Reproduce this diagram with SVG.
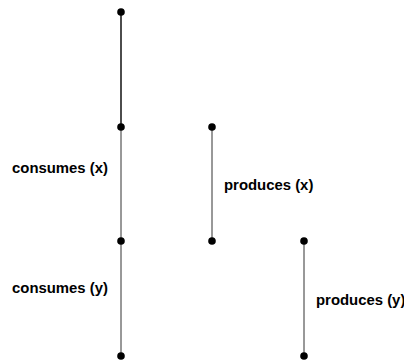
<svg xmlns="http://www.w3.org/2000/svg" width="404" height="362" viewBox="0 0 404 362">
<style>
.dot{fill:#000}
.edge{stroke:#333;stroke-width:1;fill:none}
.edge.top{stroke:#000;stroke-width:1.4}
.lbl{font-family:"Liberation Sans",Arial,sans-serif;font-weight:bold;font-size:14.9px;fill:#000}
</style>
<rect width="404" height="362" fill="#fff"/>
<g id="connectors">
<line class="edge top" x1="121" y1="12" x2="121" y2="127"/>
<line class="edge" x1="121" y1="127" x2="121" y2="241"/>
<line class="edge" x1="121" y1="241" x2="121" y2="356"/>
<line class="edge" x1="212" y1="127" x2="212" y2="241"/>
<line class="edge" x1="304" y1="241" x2="304" y2="356"/>
<text class="lbl" x="12" y="173">consumes (x)</text>
<text class="lbl" x="224" y="190">produces (x)</text>
<text class="lbl" x="12" y="293">consumes (y)</text>
<text class="lbl" x="316" y="305">produces (y)</text>
</g>
<g id="n1"><circle class="dot" cx="121" cy="12" r="3.8"/></g>
<g id="n2"><circle class="dot" cx="121" cy="127" r="3.8"/></g>
<g id="n3"><circle class="dot" cx="121" cy="241" r="3.8"/></g>
<g id="n4"><circle class="dot" cx="121" cy="356" r="3.8"/></g>
<g id="n5"><circle class="dot" cx="212" cy="127" r="3.8"/></g>
<g id="n6"><circle class="dot" cx="212" cy="241" r="3.8"/></g>
<g id="n7"><circle class="dot" cx="304" cy="241" r="3.8"/></g>
<g id="n8"><circle class="dot" cx="304" cy="356" r="3.8"/></g>
</svg>
